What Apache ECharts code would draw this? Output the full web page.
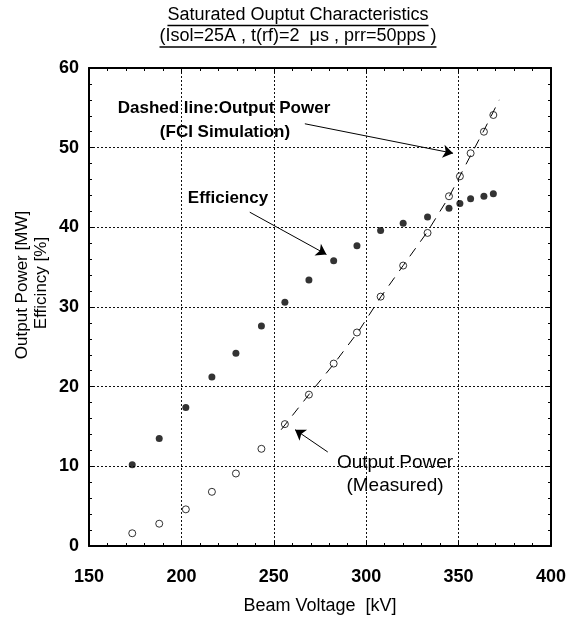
<!DOCTYPE html>
<html>
<head>
<meta charset="utf-8">
<script src="https://cdn.jsdelivr.net/npm/echarts@6/dist/echarts.min.js"></script>
<style>
html,body{margin:0;padding:0;background:#fff;}
#c{width:569px;height:620px;}
</style>
</head>
<body>
<div id="c"></div>
<script>
// ---- data ----
var voltage = [173.4, 188, 202.4, 216.5, 229.5, 243.3, 256, 269, 282.4, 295, 307.8, 320, 333.2, 344.8, 350.7, 356.5, 363.7, 368.8];
var efficiency = [10.2, 13.5, 17.4, 21.2, 24.2, 27.6, 30.6, 33.4, 35.8, 37.7, 39.6, 40.5, 41.3, 42.4, 43.0, 43.6, 43.9, 44.2];
var powerMeasured = [1.6, 2.8, 4.6, 6.8, 9.1, 12.2, 15.3, 19.0, 22.9, 26.8, 31.3, 35.2, 39.3, 43.9, 46.4, 49.3, 52.0, 54.1];
var simVoltage = [254, 270, 283, 296, 308, 320, 333, 345, 356, 364, 372];
var simPower = [14.6, 19.3, 23.0, 27.0, 31.3, 35.2, 39.4, 43.9, 48.8, 52.3, 56.0];
var xTicks = [150, 200, 250, 300, 350, 400];
var yTicks = [0, 10, 20, 30, 40, 50, 60];
// annotation arrows in data coordinates [fromX, fromY, toX, toY]
var arrowSim = [266.8, 53.0, 347.0, 49.3];
var arrowEff = [237, 41.9, 278.5, 36.6];
var arrowMeas = [279.2, 11.8, 261.5, 14.6];

function zip(a, b) { return a.map(function (v, i) { return [v, b[i]]; }); }

var FONT = 'Liberation Sans, Arial, sans-serif';
var chart = echarts.init(document.getElementById('c'), null, {renderer: 'canvas'});

function measure(text, font) {
  var ctx = document.createElement('canvas').getContext('2d');
  ctx.font = font;
  return ctx.measureText(text).width;
}

var t1 = 'Saturated Ouptut Characteristics';
var t2 = '(Isol=25A , t(rf)=2  \u03bcs , prr=50pps )';
var titleFont = '18px Liberation Sans';
var w1 = measure(t1, titleFont), w2 = measure(t2, titleFont);
var tcx = 298;

function arrowLine(a) {
  return [{coord: [a[0], a[1]], symbol: 'none'}, {coord: [a[2], a[3]], symbol: 'arrow'}];
}

var axisCommon = {
  type: 'value',
  axisLine: {show: true, onZero: false, lineStyle: {color: '#000', width: 2}},
  axisTick: {show: true, inside: true, length: 5, lineStyle: {color: '#000', width: 1}},
  minorTick: {show: true, splitNumber: 5, length: 3, lineStyle: {color: '#000', width: 1}},
  splitLine: {show: false},
  minorSplitLine: {show: false}
};

var option = {
  backgroundColor: '#fff',
  animation: false,
  grid: {left: 89, right: 18, top: 68, bottom: 74, containLabel: false, outerBoundsMode: 'none'},
  xAxis: [
    Object.assign({}, axisCommon, {
      min: xTicks[0], max: xTicks[xTicks.length - 1], interval: 50, position: 'bottom',
      splitLine: {show: true, lineStyle: {color: '#111', width: 1, type: [2, 2]}},
      axisLabel: {margin: 22, fontSize: 18, fontWeight: 'bold', color: '#000', fontFamily: FONT},
      name: 'Beam Voltage  [kV]', nameLocation: 'middle', nameGap: 51,
      nameTextStyle: {fontSize: 18, color: '#000', fontFamily: FONT}
    }),
    Object.assign({}, axisCommon, {
      min: xTicks[0], max: xTicks[xTicks.length - 1], interval: 50, position: 'top',
      axisLabel: {show: false}
    })
  ],
  yAxis: [
    Object.assign({}, axisCommon, {
      min: yTicks[0], max: yTicks[yTicks.length - 1], interval: 10, position: 'left',
      splitLine: {show: true, lineStyle: {color: '#111', width: 1, type: [2, 2]}},
      axisLabel: {margin: 10, fontSize: 18, fontWeight: 'bold', color: '#000', fontFamily: FONT}
    }),
    Object.assign({}, axisCommon, {
      min: yTicks[0], max: yTicks[yTicks.length - 1], interval: 10, position: 'right',
      axisLabel: {show: false}
    })
  ],
  series: [
    {
      name: 'Efficiency', type: 'scatter', data: zip(voltage, efficiency),
      symbol: 'circle', symbolSize: 7, itemStyle: {color: '#000'}, z: 3,
      markLine: {
        silent: true, animation: false, symbolSize: 10,
        label: {show: false},
        lineStyle: {color: '#000', width: 1, type: 'solid'},
        data: [arrowLine(arrowSim), arrowLine(arrowEff), arrowLine(arrowMeas)]
      }
    },
    {
      name: 'Output Power (Measured)', type: 'scatter', data: zip(voltage, powerMeasured),
      symbol: 'circle', symbolSize: 7,
      itemStyle: {color: '#fff', borderColor: '#000', borderWidth: 1}, z: 3
    },
    {
      name: 'Output Power (FCI Simulation)', type: 'line', data: zip(simVoltage, simPower),
      showSymbol: false, symbol: 'none', smooth: false,
      lineStyle: {color: '#000', width: 1, type: [10, 8]}, z: 4
    }
  ],
  graphic: [
    {type: 'text', left: tcx - w1 / 2, top: 6, style: {text: t1, font: titleFont, fill: '#000'}},
    {type: 'line', shape: {x1: tcx - w1 / 2, y1: 25.5, x2: tcx + w1 / 2, y2: 25.5}, style: {stroke: '#000', lineWidth: 1.5}},
    {type: 'text', left: tcx - w2 / 2, top: 27, style: {text: t2, font: titleFont, fill: '#000'}},
    {type: 'line', shape: {x1: tcx - w2 / 2, y1: 47, x2: tcx + w2 / 2, y2: 47}, style: {stroke: '#000', lineWidth: 1.5}},
    {type: 'text', x: 224, y: 108, style: {text: 'Dashed line:Output Power', font: 'bold 17px Liberation Sans', fill: '#000', align: 'center', verticalAlign: 'middle'}},
    {type: 'text', x: 225, y: 132, style: {text: '(FCI Simulation)', font: 'bold 17px Liberation Sans', fill: '#000', align: 'center', verticalAlign: 'middle'}},
    {type: 'text', x: 228, y: 198, style: {text: 'Efficiency', font: 'bold 17px Liberation Sans', fill: '#000', align: 'center', verticalAlign: 'middle'}},
    {type: 'text', x: 395, y: 463, style: {text: 'Output Power', font: '19px Liberation Sans', fill: '#000', align: 'center', verticalAlign: 'middle'}},
    {type: 'text', x: 395, y: 486, style: {text: '(Measured)', font: '19px Liberation Sans', fill: '#000', align: 'center', verticalAlign: 'middle'}},
    {type: 'text', x: 22, y: 285, rotation: Math.PI / 2, style: {text: 'Output Power [MW]', font: '17px Liberation Sans', fill: '#000', align: 'center', verticalAlign: 'middle'}},
    {type: 'text', x: 41, y: 283, rotation: Math.PI / 2, style: {text: 'Efficincy [%]', font: '17px Liberation Sans', fill: '#000', align: 'center', verticalAlign: 'middle'}}
  ]
};
chart.setOption(option);
</script>
</body>
</html>
